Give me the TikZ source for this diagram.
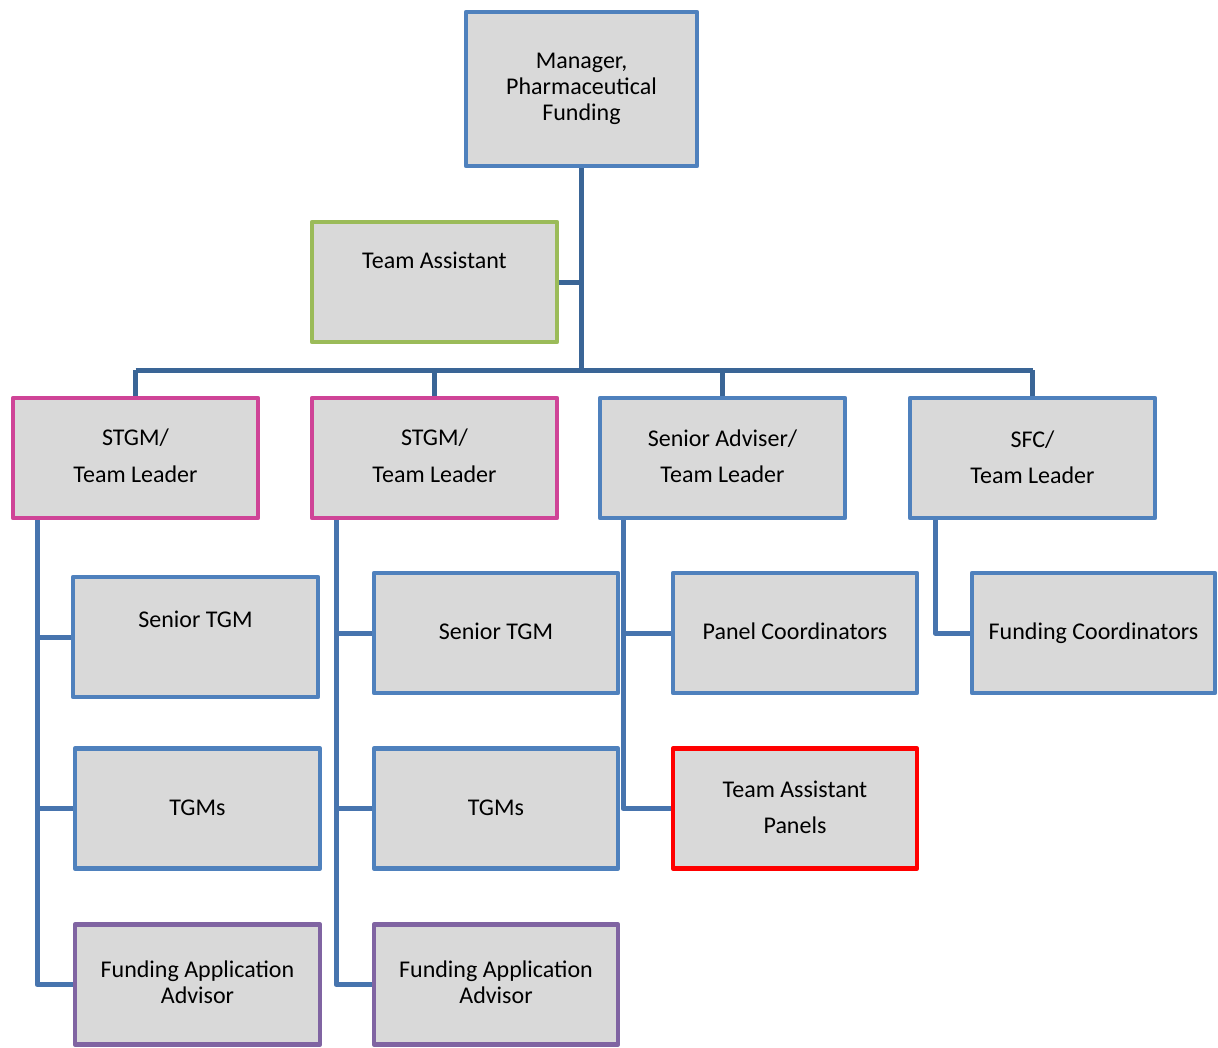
\documentclass[tikz,border=0pt]{standalone}
\usepackage{fontspec}
\setmainfont{Carlito}
\usetikzlibrary{backgrounds}
\definecolor{boxfill}{HTML}{D9D9D9}
\definecolor{bblue}{HTML}{4F81BD}
\definecolor{bpink}{HTML}{CF4497}
\definecolor{bgreen}{HTML}{9BBB59}
\definecolor{bpurple}{HTML}{8064A2}
\definecolor{bred}{HTML}{FF0000}
\definecolor{linedark}{HTML}{3A6596}
\definecolor{linemid}{HTML}{4774AE}
\begin{document}
\begin{tikzpicture}[x=1pt,y=-1pt,
  box/.style={draw=#1, line width=4.5pt, line join=round, fill=boxfill, rectangle,
    inner sep=0pt, minimum width=245pt, minimum height=120pt},
  lbl/.style={anchor=base, inner sep=0pt, font=\fontsize{24}{26}\selectfont, text=black},
  trunk/.style={draw=linedark, line width=5pt},
  branch/.style={draw=linemid, line width=5pt}]
\useasboundingbox (0,0) rectangle (1218,1047);

% --- boxes ---
\node[box=bblue, minimum width=231pt, minimum height=154pt] (mgr) at (581.5,89) {};
\node[box=bgreen] (ta) at (434.5,282) {};

\node[box=bpink] (s1) at (135.5,458) {};
\node[box=bpink] (s2) at (434.5,458) {};
\node[box=bblue] (sa) at (722.5,458) {};
\node[box=bblue] (sf) at (1032.5,458) {};

\node[box=bblue] (a1) at (195.5,637) {};
\node[box=bblue] (b1) at (197.5,808.5) {};
\node[box=bpurple] (c1) at (197.5,984.5) {};

\node[box=bblue, minimum width=244pt] (a2) at (496,633) {};
\node[box=bblue, minimum width=244pt] (b2) at (496,808.5) {};
\node[box=bpurple, minimum width=244pt] (c2) at (496,984.5) {};

\node[box=bblue, minimum width=244pt] (pc) at (795,633) {};
\node[box=bred, minimum width=244pt] (tp) at (795,808.5) {};

\node[box=bblue, minimum width=243pt] (fc) at (1093.5,633) {};

% --- labels ---
\node[lbl] (tmgr1) at (581.5,68) {Manager,};
\node[lbl] (tmgr2) at (581.5,94) {Pharmaceutical};
\node[lbl] (tmgr3) at (581.5,120) {Funding};
\node[lbl] (tta) at (434.5,268) {Team Assistant};

\node[lbl] (ts1a) at (135.5,445) {STGM/};
\node[lbl] (ts1b) at (135.5,482) {Team Leader};
\node[lbl] (ts2a) at (434.5,445) {STGM/};
\node[lbl] (ts2b) at (434.5,482) {Team Leader};
\node[lbl] (tsaa) at (722.5,446) {Senior Adviser/};
\node[lbl] (tsab) at (722.5,482) {Team Leader};
\node[lbl] (tsfa) at (1032.5,447) {SFC/};
\node[lbl] (tsfb) at (1032.5,483) {Team Leader};

\node[lbl] (ta1) at (195.5,627) {Senior TGM};
\node[lbl] (tb1) at (197.5,815) {TGMs};
\node[lbl] (tc1a) at (197.5,977) {Funding Application};
\node[lbl] (tc1b) at (197.5,1003) {Advisor};

\node[lbl] (ta2) at (496,639) {Senior TGM};
\node[lbl] (tb2) at (496,815) {TGMs};
\node[lbl] (tc2a) at (496,977) {Funding Application};
\node[lbl] (tc2b) at (496,1003) {Advisor};

\node[lbl] (tpc) at (795,639) {Panel Coordinators};
\node[lbl] (ttpa) at (795,797) {Team Assistant};
\node[lbl] (ttpb) at (795,833) {Panels};

\node[lbl] (tfc) at (1093.5,639) {Funding Coordinators};

% --- connectors (drawn behind the boxes) ---
\coordinate (bus) at (581.5,370);
\coordinate (k1) at (37,0);
\coordinate (k2) at (336,0);
\coordinate (k3) at (623,0);
\coordinate (k4) at (935,0);
\begin{scope}[on background layer]
  \fill[white] (0,0) rectangle (1218,1047);
  \draw[trunk] (mgr.south) -- (bus);
  \draw[trunk] (ta.east) -- (ta.east -| mgr.south);
  \draw[trunk] (s1.north |- bus) -- (sf.north |- bus);
  \draw[trunk] (s1.north |- bus) -- (s1.north);
  \draw[trunk] (s2.north |- bus) -- (s2.north);
  \draw[trunk] (sa.north |- bus) -- (sa.north);
  \draw[trunk] (sf.north |- bus) -- (sf.north);

  \draw[branch, line join=round] (k1 |- s1.south) |- (c1.west);
  \draw[branch] (k1 |- a1.west) -- (a1.west);
  \draw[branch] (k1 |- b1.west) -- (b1.west);

  \draw[branch, line join=round] (k2 |- s2.south) |- (c2.west);
  \draw[branch] (k2 |- a2.west) -- (a2.west);
  \draw[branch] (k2 |- b2.west) -- (b2.west);

  \draw[branch, line join=round] (k3 |- sa.south) |- (tp.west);
  \draw[branch] (k3 |- pc.west) -- (pc.west);

  \draw[branch, line join=round] (k4 |- sf.south) |- (fc.west);
\end{scope}
\end{tikzpicture}
\end{document}
